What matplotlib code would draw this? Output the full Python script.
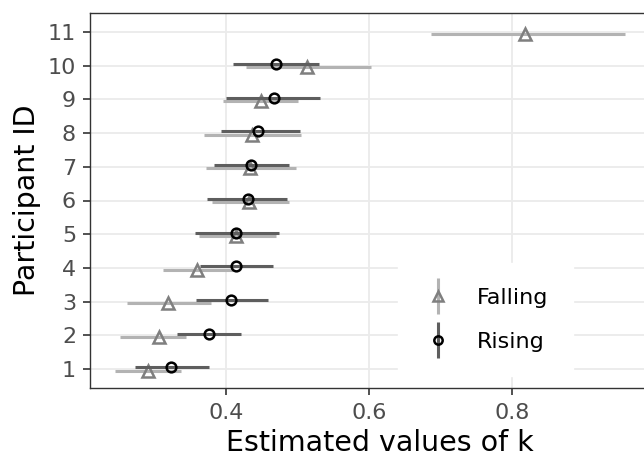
import matplotlib
matplotlib.use("Agg")
import matplotlib.pyplot as plt
from matplotlib.container import ErrorbarContainer
from matplotlib.legend_handler import HandlerErrorbar
import numpy as np

# participant ids
ids_fall = [1, 2, 3, 4, 5, 6, 7, 8, 9, 10, 11]
ids_rise = [1, 2, 3, 4, 5, 6, 7, 8, 9, 10]

# Falling estimates + interval
fall_k = [0.292, 0.307, 0.319, 0.360, 0.415, 0.433, 0.434, 0.437, 0.449, 0.514, 0.818]
fall_lo = [0.246, 0.252, 0.262, 0.312, 0.363, 0.381, 0.372, 0.370, 0.396, 0.429, 0.686]
fall_hi = [0.337, 0.345, 0.380, 0.410, 0.470, 0.489, 0.498, 0.505, 0.501, 0.603, 0.957]

# Rising estimates + interval
rise_k = [0.324, 0.377, 0.407, 0.414, 0.415, 0.431, 0.435, 0.445, 0.467, 0.470]
rise_lo = [0.274, 0.332, 0.359, 0.364, 0.357, 0.374, 0.383, 0.393, 0.401, 0.410]
rise_hi = [0.376, 0.422, 0.459, 0.466, 0.475, 0.485, 0.488, 0.504, 0.531, 0.530]

fig = plt.figure(figsize=(6.44, 4.57), dpi=100)
ax = fig.add_axes([90/644, 69/457, 580/644, 375/457])

dodge = 0.05
yf = np.array(ids_fall) - dodge
yr = np.array(ids_rise) + dodge
fk, rk = np.array(fall_k), np.array(rise_k)

ax.errorbar(fk, yf, xerr=[fk - np.array(fall_lo), np.array(fall_hi) - fk],
            fmt="^", color="#b3b3b3", elinewidth=2.2, capsize=0,
            mfc="none", mec="#7f7f7f", mew=1.8, ms=8, zorder=3)
ax.errorbar(rk, yr, xerr=[rk - np.array(rise_lo), np.array(rise_hi) - rk],
            fmt="o", color="#5e5e5e", elinewidth=2.2, capsize=0,
            mfc="none", mec="black", mew=1.8, ms=7, zorder=4)

# legend proxies (vertical bars, out of view)
h1 = ax.errorbar([0.5], [-5], yerr=[1], fmt="^", color="#b3b3b3", elinewidth=2.2,
                 mfc="none", mec="#7f7f7f", mew=1.8, ms=7, label="Falling")
h2 = ax.errorbar([0.5], [-5], yerr=[1], fmt="o", color="#5e5e5e", elinewidth=2.2,
                 mfc="none", mec="black", mew=1.8, ms=6, label="Rising")
leg = ax.legend(handles=[h1, h2], loc="center", bbox_to_anchor=(0.682, 0.182),
                frameon=True, fontsize=16, handlelength=1.4, handletextpad=1.06,
                labelspacing=1.1, borderpad=1.1, fancybox=False,
                handler_map={ErrorbarContainer: HandlerErrorbar(xerr_size=0.8)})
leg.get_frame().set_edgecolor("white")
leg.get_frame().set_facecolor("white")
leg.get_frame().set_alpha(1)
leg.set_zorder(5)

ax.set_xlim(0.2106, 0.2106 + 580/716.5)
ax.set_ylim(0.44, 11.56)
ax.set_xticks([0.4, 0.6, 0.8])
ax.set_yticks(range(1, 12))
ax.grid(True, color="#ebebeb", linewidth=1.3)
ax.set_axisbelow(True)

for s in ["left", "bottom", "top"]:
    ax.spines[s].set_color("#333333")
    ax.spines[s].set_linewidth(1.0)
ax.spines["right"].set_visible(False)
ax.tick_params(labelcolor="#4d4d4d", labelsize=16, length=5, width=1.2,
               color="#333333", pad=5)
ax.tick_params(axis="x", pad=6)

ax.set_xlabel("Estimated values of k", fontsize=20.5, labelpad=4)
ax.set_ylabel("Participant ID", fontsize=20.5, labelpad=5)

fig.savefig("out.png", dpi=100)
